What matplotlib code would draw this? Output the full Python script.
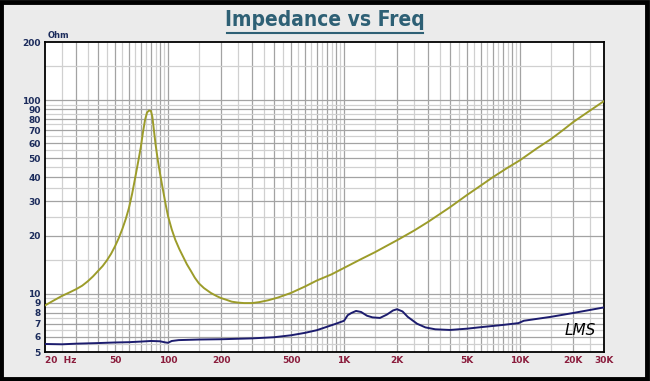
import numpy as np
import matplotlib
matplotlib.use("Agg")
import matplotlib.pyplot as plt
from matplotlib.patches import Rectangle

# impedance magnitude (yellow)
imp_freq = [20, 22.5, 25, 27.5, 30, 32.5, 35, 37.5, 40, 42.5, 45, 47.5, 50, 52.5,
            55, 57.5, 60, 62.5, 65, 67.5, 70, 72, 74, 76, 78, 80, 81.5, 83, 85,
            87.5, 90, 92.5, 95, 97.5, 100, 105, 110, 116, 122, 128, 135, 142,
            150, 160, 175, 190, 200, 215, 230, 250, 270, 300, 330, 370, 420,
            500, 600, 700, 850, 1000, 1250, 1500, 1750, 2000, 2500, 3000, 4000,
            5000, 6000, 7000, 8500, 10000, 12500, 15000, 17500, 20000, 25000, 30000]
imp_ohm = [8.7, 9.25, 9.75, 10.15, 10.55, 11.0, 11.6, 12.3, 13.1, 13.9, 14.9,
           16.1, 17.6, 19.4, 21.6, 24.3, 27.8, 32.8, 39.5, 47.5, 57, 68, 79,
           86.5, 88.5, 88, 82, 71, 59, 49, 42, 36.5, 32, 28.2, 25.2, 21.5, 19,
           17, 15.5, 14.2, 13.1, 12.1, 11.3, 10.7, 10.1, 9.7, 9.5, 9.3, 9.1,
           9.0, 8.95, 8.95, 9.05, 9.25, 9.55, 10.1, 10.9, 11.7, 12.6, 13.6,
           15.1, 16.4, 17.7, 18.9, 21.2, 23.5, 28.0, 32.4, 36.3, 40, 44.8, 49,
           56.5, 63, 70, 77, 88.5, 99]

# second trace (dark blue)
blue_freq = [20, 25, 30, 40, 50, 60, 70, 80, 90, 97, 100, 105, 115, 150, 200,
             300, 400, 500, 600, 700, 800, 900, 1000, 1050, 1100, 1170, 1250,
             1350, 1450, 1600, 1750, 1900, 2000, 2150, 2300, 2600, 2900, 3300,
             4000, 5000, 6000, 8000, 9800, 10500, 15000, 20000, 30000]
blue_ohm = [5.5, 5.48, 5.52, 5.56, 5.6, 5.62, 5.66, 5.7, 5.68, 5.6, 5.58, 5.7,
            5.76, 5.8, 5.82, 5.88, 5.96, 6.1, 6.28, 6.48, 6.75, 7.0, 7.25, 7.75,
            7.95, 8.15, 8.05, 7.7, 7.55, 7.5, 7.8, 8.2, 8.32, 8.1, 7.6, 7.0,
            6.7, 6.55, 6.5, 6.6, 6.72, 6.9, 7.05, 7.25, 7.6, 7.95, 8.5]

x_ticks = [20, 50, 100, 200, 500, 1000, 2000, 5000, 10000, 20000, 30000]
x_labels = ["20  Hz", "50", "100", "200", "500", "1K", "2K", "5K", "10K", "20K", "30K"]
y_ticks = [5, 6, 7, 8, 9, 10, 20, 30, 40, 50, 60, 70, 80, 90, 100, 200]
y_labels = [str(v) for v in y_ticks]

W, H = 650, 381
fig = plt.figure(figsize=(W / 100, H / 100), dpi=100)
fig.patch.set_facecolor("#ebebeb")

# black outer frame
fig.patches.append(Rectangle((0.002, 0.004), 0.994, 0.992, transform=fig.transFigure,
                             fill=False, edgecolor="black", linewidth=3.5))

ax = fig.add_axes([45 / W, 1 - 352 / H, (604 - 45) / W, (352 - 42) / H])
ax.set_xscale("log")
ax.set_yscale("log")
ax.set_xlim(20, 30000)
ax.set_ylim(5, 200)

# grid: full steps darker, half steps lighter
dark, light = "#a3a3a3", "#d0d0d0"
for dec in [10, 100, 1000, 10000]:
    for k in range(2, 20):
        f = dec * k / 2
        if 20 < f < 30000:
            ax.axvline(f, color=dark if k % 2 == 0 else light, lw=0.9, zorder=0)
for dec in [1, 10, 100]:
    for k in range(2, 20):
        z = dec * k / 2
        if 5 < z < 200:
            ax.axhline(z, color=dark if k % 2 == 0 else light, lw=0.9, zorder=0)

ax.plot(imp_freq, imp_ohm, color="#9c9c2a", lw=1.4, zorder=3)
ax.plot(blue_freq, blue_ohm, color="#1c1c6e", lw=1.4, zorder=3)

ax.minorticks_off()
ax.set_xticks(x_ticks)
ax.set_xticklabels(x_labels)
ax.set_yticks(y_ticks)
ax.set_yticklabels(y_labels)
ax.tick_params(length=0, pad=3)
for t in ax.get_xticklabels():
    t.set_color("#8a1c3c")
    t.set_fontsize(6.5)
    t.set_fontweight("bold")
ax.get_xticklabels()[0].set_horizontalalignment("left")
ax.get_xticklabels()[0].set_x(19.4)
for t in ax.get_yticklabels():
    t.set_color("#1c2c5c")
    t.set_fontsize(6.5)
    t.set_fontweight("bold")
for s in ax.spines.values():
    s.set_linewidth(1.3)
    s.set_color("black")

fig.text(48 / W, 1 - 36 / H, "Ohm", color="#1c2c5c", fontsize=6, fontweight="bold",
         va="center", ha="left")

fig.text(0.5, 1 - 20 / H, "Impedance vs Freq", color="#2e6075",
         fontsize=15, fontweight="bold", fontstretch="condensed",
         ha="center", va="center", family="DejaVu Sans")
fig.lines.append(plt.Line2D([227 / W, 423 / W], [1 - 33 / H, 1 - 33 / H],
                            transform=fig.transFigure, color="#2e6075", lw=1.5))

ax.text(0.985, 0.07, "LMS", transform=ax.transAxes, fontsize=11, style="italic",
        ha="right", va="center", color="black")

fig.savefig("out.png", dpi=100, facecolor=fig.get_facecolor())
